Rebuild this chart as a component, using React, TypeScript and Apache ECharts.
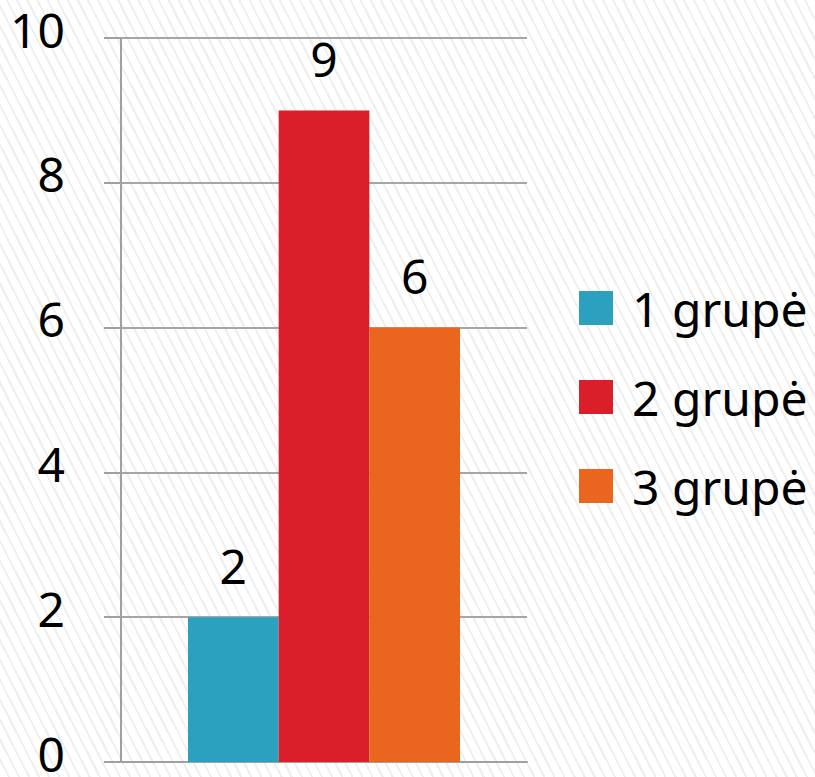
import React, { useEffect, useRef } from "react";
import * as echarts from "echarts";

const categories = [""];
const groupNames = ["1 grupė", "2 grupė", "3 grupė"];
const groupValues = [2, 9, 6];
const groupColors = ["#2ca1bf", "#da1f2a", "#ea661e"];
const yTicks = { min: 0, max: 10, interval: 2 };

export default function App() {
  const ref = useRef<HTMLDivElement>(null);
  useEffect(() => {
    if (!ref.current) return;
    const chart = echarts.init(ref.current, null, { renderer: "svg" });
    const font = "'Noto Sans', sans-serif";
    chart.setOption({
      animation: false,
      textStyle: { fontFamily: font },
      grid: { left: 121, right: 288, top: 38, bottom: 12, containLabel: false },
      legend: {
        orient: "vertical",
        left: 579,
        top: 273,
        padding: 0,
        icon: "rect",
        itemWidth: 34,
        itemHeight: 34,
        itemGap: 19,
        textStyle: {
          fontSize: 48,
          lineHeight: 56,
          color: "#000",
          fontFamily: font,
          padding: [0, 0, 14, 14],
        },
        data: groupNames,
      },
      xAxis: {
        type: "category",
        data: categories,
        axisLine: { show: true, lineStyle: { color: "#a0a0a0", width: 2 } },
        axisTick: { show: false },
        axisLabel: { show: false },
      },
      yAxis: {
        type: "value",
        min: yTicks.min,
        max: yTicks.max,
        interval: yTicks.interval,
        axisLine: { show: true, lineStyle: { color: "#a0a0a0", width: 2 } },
        axisTick: { show: true, length: 17, lineStyle: { color: "#a0a0a0", width: 2 } },
        splitLine: { show: true, lineStyle: { color: "#a6a6a6", width: 2 } },
        axisLabel: {
          fontSize: 48,
          lineHeight: 18,
          verticalAlign: "bottom",
          color: "#000",
          margin: 56,
          fontFamily: font,
        },
      },
      series: groupNames.map((name, i) => ({
        name,
        type: "bar",
        data: [groupValues[i]],
        barGap: "0%",
        barCategoryGap: "33%",
        itemStyle: { color: groupColors[i] },
        label: {
          show: true,
          position: "top",
          distance: 28,
          fontSize: 48,
          lineHeight: 48,
          color: "#000",
          fontFamily: font,
        },
      })),
    });
    return () => chart.dispose();
  }, []);
  return (
    <div
      ref={ref}
      style={{
        position: "absolute",
        left: 0,
        top: 0,
        width: 815,
        height: 777,
        background:
          "repeating-linear-gradient(63deg, #ffffff 0px, #ffffff 7px, #efefef 7px, #efefef 9px)",
      }}
    />
  );
}
